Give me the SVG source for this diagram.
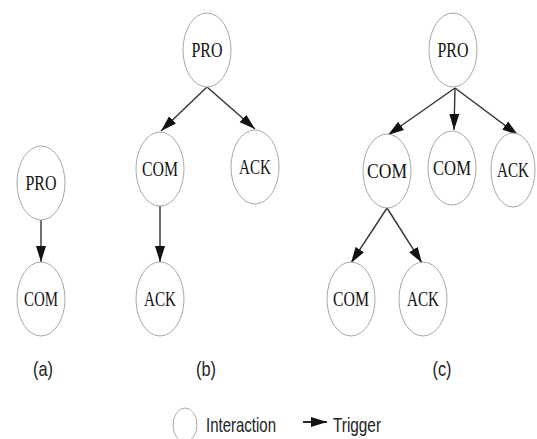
<svg xmlns="http://www.w3.org/2000/svg" width="537" height="439" viewBox="0 0 537 439">
<style>
.n ellipse{fill:#fff;stroke:#a8a8a8;stroke-width:1}
.n text{font-family:"Liberation Serif","Times New Roman",serif;font-size:20px;fill:#111;text-anchor:middle}
.e line{stroke:#333;stroke-width:1.4;marker-end:url(#ah)}
.lbl{font-family:"Liberation Sans",Arial,sans-serif;font-size:21px;fill:#222;text-anchor:middle}
</style>
<defs>
<marker id="ah" markerUnits="userSpaceOnUse" markerWidth="16" markerHeight="11" refX="16" refY="5.5" orient="auto">
<path d="M0,0.5 L16,5.5 L0,10.5 z" fill="#111"/>
</marker>
</defs>
<rect width="537" height="439" fill="#fff"/>
<g class="e" id="connectors">
<line x1="41" y1="220" x2="41" y2="262"/>
<line x1="207" y1="87" x2="161" y2="131"/>
<line x1="207" y1="87" x2="255" y2="129"/>
<line x1="160" y1="206" x2="160" y2="262"/>
<line x1="455" y1="88" x2="388" y2="135"/>
<line x1="455" y1="88" x2="454" y2="130"/>
<line x1="455" y1="88" x2="518" y2="135"/>
<line x1="387" y1="208" x2="351" y2="263"/>
<line x1="387" y1="208" x2="422" y2="263"/>
</g>
<g class="n" id="a-pro"><ellipse cx="41" cy="183" rx="24" ry="37"/><text x="41" y="190" textLength="31" lengthAdjust="spacingAndGlyphs">PRO</text></g>
<g class="n" id="a-com"><ellipse cx="41" cy="299" rx="24" ry="37"/><text x="41" y="306" textLength="34" lengthAdjust="spacingAndGlyphs">COM</text></g>
<g class="n" id="b-pro"><ellipse cx="207" cy="50" rx="24" ry="37"/><text x="207" y="57" textLength="31" lengthAdjust="spacingAndGlyphs">PRO</text></g>
<g class="n" id="b-com"><ellipse cx="160" cy="169" rx="24" ry="37"/><text x="160" y="176" textLength="36" lengthAdjust="spacingAndGlyphs">COM</text></g>
<g class="n" id="b-ack1"><ellipse cx="255" cy="167" rx="24" ry="37"/><text x="255" y="174" textLength="32" lengthAdjust="spacingAndGlyphs">ACK</text></g>
<g class="n" id="b-ack2"><ellipse cx="160" cy="299" rx="24" ry="37"/><text x="160" y="306" textLength="32" lengthAdjust="spacingAndGlyphs">ACK</text></g>
<g class="n" id="c-pro"><ellipse cx="453" cy="50" rx="24" ry="37"/><text x="453" y="57" textLength="31" lengthAdjust="spacingAndGlyphs">PRO</text></g>
<g class="n" id="c-com1"><ellipse cx="387" cy="171" rx="24" ry="37"/><text x="387" y="178" textLength="40" lengthAdjust="spacingAndGlyphs">COM</text></g>
<g class="n" id="c-com2"><ellipse cx="452" cy="168" rx="24" ry="37"/><text x="452" y="175" textLength="38" lengthAdjust="spacingAndGlyphs">COM</text></g>
<g class="n" id="c-ack1"><ellipse cx="513" cy="170" rx="22" ry="37"/><text x="513" y="177" textLength="32" lengthAdjust="spacingAndGlyphs">ACK</text></g>
<g class="n" id="c-com3"><ellipse cx="351" cy="299" rx="24" ry="37"/><text x="351" y="306" textLength="36" lengthAdjust="spacingAndGlyphs">COM</text></g>
<g class="n" id="c-ack2"><ellipse cx="423" cy="299" rx="24" ry="37"/><text x="423" y="306" textLength="32" lengthAdjust="spacingAndGlyphs">ACK</text></g>
<g id="labels">
<text class="lbl" x="43" y="376" textLength="20" lengthAdjust="spacingAndGlyphs">(a)</text>
<text class="lbl" x="206" y="376" textLength="20" lengthAdjust="spacingAndGlyphs">(b)</text>
<text class="lbl" x="442" y="376" textLength="19" lengthAdjust="spacingAndGlyphs">(c)</text>
</g>
<g id="legend">
<ellipse cx="185" cy="425" rx="12" ry="17" fill="#fff" stroke="#a8a8a8" stroke-width="1"/>
<text x="206" y="432" font-family="Liberation Sans,Arial,sans-serif" font-size="21" fill="#222" textLength="70" lengthAdjust="spacingAndGlyphs">Interaction</text>
<line x1="303" y1="422" x2="327" y2="422" stroke="#111" stroke-width="1.8" marker-end="url(#ah)"/>
<text x="333" y="432" font-family="Liberation Sans,Arial,sans-serif" font-size="21" fill="#222" textLength="48" lengthAdjust="spacingAndGlyphs">Trigger</text>
</g>
</svg>
